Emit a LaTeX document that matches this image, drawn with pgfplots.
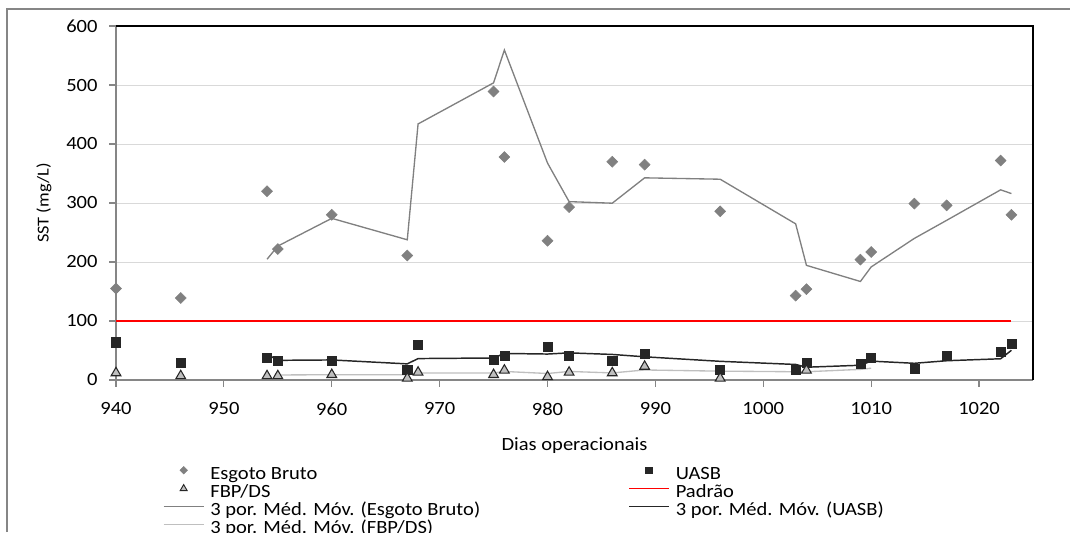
\documentclass[border=0pt]{standalone}
\usepackage{fontspec}
\setmainfont{Carlito}[FakeStretch=1.1]
\usepackage{pgfplots}
\pgfplotsset{compat=1.18}
\definecolor{esg}{HTML}{808080}
\definecolor{uasb}{HTML}{262626}
\definecolor{fbp}{HTML}{BFBFBF}
\definecolor{axgray}{HTML}{868686}
\definecolor{gridc}{HTML}{D9D9D9}
\definecolor{padrao}{HTML}{FF0000}
\begin{document}
\fontsize{14pt}{17pt}\selectfont
\begin{tikzpicture}
\useasboundingbox (-87pt,-114pt) rectangle (715.5pt,285pt);
\draw[axgray, line width=1.1pt] (-81.75pt,-114pt) -- (-81.75pt,278.25pt) -- (715.5pt,278.25pt);
\begin{axis}[
  at={(0pt,0pt)}, anchor=south west, scale only axis,
  width=687.75pt, height=265.5pt,
  xmin=940, xmax=1025, ymin=0, ymax=600,
  xtick={940,950,...,1020}, ytick={0,100,...,600},
  axis lines=left, axis line style={-, axgray, line width=1.3pt},
  tick align=outside, major tick length=5pt, tick style={axgray, line width=0.9pt},
  xticklabel style={yshift=-7pt},
  yticklabel style={xshift=-4pt},
  ymajorgrids, grid style={gridc, line width=0.75pt},
  clip=false,
  /pgf/number format/assume math mode=true, /pgf/number format/1000 sep={},
  xlabel={Dias operacionais}, ylabel={SST (mg/L)},
  every axis x label/.style={at={(axis description cs:0.5,-0.186)}, anchor=center},
  every axis y label/.style={at={(axis description cs:-0.0785,0.5)}, rotate=90, anchor=center, font=\fontsize{12.5pt}{14pt}\selectfont},
  legend columns=2, legend cell align=left,
  legend style={at={(axis description cs:0.05125,-0.2443)}, anchor=north west, draw=none, fill=none, inner sep=0pt, outer sep=0pt, row sep=0pt, column sep=0pt, nodes={inner sep=0pt, text height=9.5pt, text depth=4pt}},
  legend image code/.code={\draw[yshift=4pt, mark repeat=2,mark phase=2,#1] plot coordinates {(0pt,0pt) (15pt,0pt) (30pt,0pt)};},
]
% Esgoto Bruto
\addplot[forget plot, only marks, mark=square*, mark size=2.9pt, mark options={rotate=45, fill=esg, draw=esg}] coordinates {
(940,155)(946,139)(954,320)(955,222)(960,280)(967,211)(975,489)(976,378)(980,236)(982,293)(986,370)(989,365)(996,286)(1003,143)(1004,154)(1009,204)(1010,217)(1014,299)(1017,296)(1022,372)(1023,280)};
% UASB
\addplot[forget plot, only marks, mark=square*, mark size=3.4pt, mark options={fill=uasb, draw=uasb}] coordinates {
(940,64)(946,30)(954,38)(955,32)(960,32)(967,18)(968,59)(975,35)(976,41)(980,56)(982,41)(986,33)(989,44)(996,18)(1003,17)(1004,30)(1009,28)(1010,38)(1014,19)(1017,41)(1022,48)(1023,62)};
% FBP/DS
\addplot[forget plot, only marks, mark=triangle*, mark size=4.2pt, mark options={fill=fbp, draw=uasb, line width=0.8pt}] coordinates {
(940,12)(946,7)(954,7)(955,7)(960,9)(967,3)(968,13)(975,9)(976,16.5)(980,5.5)(982,13)(986,12)(989,23)(996,3)(1004,16.5)};
% Padrao
\addplot[forget plot, draw=padrao, line width=1.1pt] coordinates {(940,100)(1023,100)};
% Moving averages
\addplot[forget plot, esg, line width=1pt] coordinates {
(954,204.67)(955,227)(960,274)(967,237.67)(968,434)(975,503.67)(976,559.33)(980,367.67)(982,302.33)(986,299.67)(989,342.67)(996,340.33)(1003,264.67)(1004,194.33)(1009,167)(1010,191.67)(1014,240)(1017,270.67)(1022,322.33)(1023,316)};
\addplot[forget plot, uasb, line width=1.1pt] coordinates {
(954,44)(955,33.33)(960,34)(967,27.33)(968,36.33)(975,37.33)(976,45)(980,44)(982,46)(986,43.33)(989,39.33)(996,31.67)(1003,26.33)(1004,21.67)(1009,25)(1010,32)(1014,28.33)(1017,32.67)(1022,36)(1023,50.33)};
\addplot[forget plot, fbp, line width=1pt] coordinates {
(955,8.5)(960,9)(967,9)(968,12)(975,12)(976,14.5)(980,11)(982,14.5)(986,12)(989,17)(996,15)(1003,14)(1004,14)(1009,18)(1010,20)};
\draw[black, line width=0.9pt] (rel axis cs:0,1) -- (rel axis cs:1,1) -- (rel axis cs:1,0);
% Legend
\addlegendimage{only marks, mark=square*, mark size=2pt, mark options={rotate=45, fill=esg, draw=esg}}
\addlegendentry{\makebox[318pt][l]{\hspace{4.5pt}Esgoto Bruto}}
\addlegendimage{only marks, mark=square*, mark size=2.6pt, mark options={fill=uasb, draw=uasb}}
\addlegendentry{\hspace{4.5pt}UASB}
\addlegendimage{only marks, mark=triangle*, mark size=3pt, mark options={fill=fbp, draw=uasb, line width=0.7pt}}
\addlegendentry{\makebox[318pt][l]{\hspace{4.5pt}FBP/DS}}
\addlegendimage{draw=padrao, line width=1.1pt}
\addlegendentry{\hspace{4.5pt}Padrão}
\addlegendimage{esg, line width=1pt}
\addlegendentry{\makebox[318pt][l]{\hspace{4.5pt}3 por. Méd. Móv. (Esgoto Bruto)}}
\addlegendimage{uasb, line width=1.1pt}
\addlegendentry{\hspace{4.5pt}3 por. Méd. Móv. (UASB)}
\addlegendimage{fbp, line width=1pt}
\addlegendentry{\makebox[318pt][l]{\hspace{4.5pt}3 por. Méd. Móv. (FBP/DS)}}
\end{axis}
\end{tikzpicture}
\end{document}
